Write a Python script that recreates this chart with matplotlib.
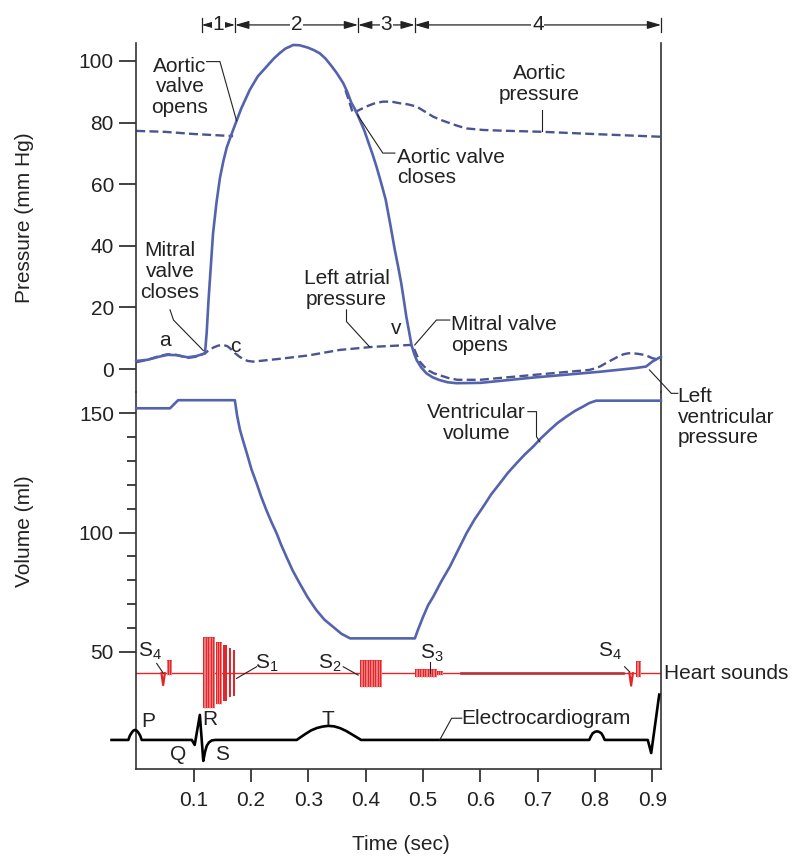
import numpy as np
import matplotlib
matplotlib.use("Agg")
import matplotlib.pyplot as plt

plt.rcParams['font.family'] = ['Liberation Sans', 'DejaVu Sans']
plt.rcParams['font.size'] = 15

# ---- data (time in s) ----
lv_t = [0.000, 0.020, 0.040, 0.055, 0.070, 0.090, 0.105, 0.120, 0.123, 0.126, 0.130, 0.134,
        0.140, 0.146, 0.152, 0.158, 0.169, 0.183, 0.198, 0.212, 0.227, 0.240, 0.250, 0.260,
        0.274, 0.285, 0.300, 0.310, 0.320, 0.330, 0.340, 0.350, 0.361, 0.368, 0.375, 0.383,
        0.390, 0.398, 0.405, 0.412, 0.419, 0.427, 0.435, 0.443, 0.451, 0.457, 0.462, 0.467,
        0.471, 0.476, 0.480, 0.485, 0.489, 0.497, 0.506, 0.517, 0.529, 0.543, 0.558, 0.600,
        0.691, 0.808, 0.870, 0.889, 0.900, 0.915]
lv_p = [2.6, 3.0, 4.0, 4.6, 4.5, 3.8, 4.2, 5.1, 12.0, 22.0, 33.0, 44.0,
        54.0, 62.0, 67.5, 72.0, 77.6, 84.5, 90.6, 95.0, 98.1, 100.8, 102.5, 104.0,
        105.2, 105.1, 104.3, 103.5, 102.5, 100.8, 98.5, 96.0, 92.8, 90.0, 86.5, 83.8,
        80.8, 77.3, 73.5, 69.8, 65.7, 60.5, 55.0, 47.0, 38.6, 33.0, 28.0, 22.0,
        17.0, 12.0, 7.8, 4.8, 2.9, 0.5, -1.4, -2.7, -3.6, -4.3, -4.6, -4.5,
        -2.8, -0.9, 0.3, 0.8, 2.4, 4.0]

aortic_t = [0.000, 0.050, 0.100, 0.169, 0.350, 0.365, 0.378, 0.390, 0.401, 0.415, 0.430,
            0.445, 0.459, 0.474, 0.489, 0.503, 0.518, 0.532, 0.547, 0.561, 0.576, 0.605,
            0.634, 0.709, 0.808, 0.915]
aortic_p = [77.3, 77.0, 76.3, 75.6, np.nan, 90.5, 83.0, 84.2, 85.2, 86.2, 86.8,
            86.8, 86.3, 85.9, 85.2, 83.6, 81.9, 80.8, 79.8, 78.9, 78.1, 77.6,
            77.4, 77.0, 76.2, 75.4]

atrial_t = [0.000, 0.020, 0.040, 0.055, 0.070, 0.090, 0.105, 0.120, 0.128, 0.135, 0.143,
            0.152, 0.159, 0.165, 0.172, 0.180, 0.188, 0.195, 0.204, 0.250, 0.300, 0.355,
            0.413, 0.477, 0.482, 0.487, 0.494, 0.502, 0.510, 0.519, 0.529, 0.544, 0.560,
            0.600, 0.700, 0.790, 0.800, 0.808, 0.818, 0.830, 0.840, 0.850, 0.858, 0.866,
            0.876, 0.885, 0.893, 0.900, 0.915]
atrial_p = [2.2, 3.0, 4.2, 4.8, 4.6, 3.6, 4.0, 5.1, 6.3, 7.0, 7.6,
            7.8, 7.4, 6.5, 5.2, 4.0, 3.1, 2.6, 2.4, 3.3, 4.4, 6.2,
            7.2, 7.8, 7.6, 5.5, 2.5, 0.8, -0.5, -1.4, -2.0, -2.9, -3.5,
            -3.5, -1.8, -0.3, 0.2, 0.75, 1.8, 3.0, 4.0, 4.8, 5.1, 5.1,
            4.9, 4.6, 4.1, 3.5, 2.9]

vol_t = [0.000, 0.059, 0.073, 0.172, 0.176, 0.181, 0.187, 0.193, 0.201, 0.210, 0.218,
         0.227, 0.236, 0.245, 0.253, 0.262, 0.273, 0.285, 0.299, 0.314, 0.328, 0.343,
         0.358, 0.373, 0.486, 0.491, 0.500, 0.509, 0.518, 0.532, 0.547, 0.561, 0.576,
         0.590, 0.605, 0.619, 0.634, 0.648, 0.663, 0.677, 0.692, 0.706, 0.721, 0.735,
         0.750, 0.765, 0.779, 0.790, 0.802, 0.915]
vol_ml = [152.1, 152.1, 155.5, 155.5, 149.0, 143.0, 138.0, 133.2, 126.5, 120.6, 115.0,
          109.4, 104.3, 99.6, 94.7, 89.8, 84.0, 78.7, 72.8, 67.5, 63.5, 60.5,
          57.5, 55.6, 55.6, 59.0, 64.5, 69.5, 73.1, 79.5, 85.7, 92.5, 99.7,
          105.5, 110.8, 116.0, 120.6, 125.0, 129.0, 132.6, 136.0, 139.6, 143.0, 146.0,
          148.6, 151.0, 152.8, 154.3, 155.3, 155.3]

# heart sound bursts: start, end, amplitude up, amplitude down (relative to trace)
sound_start = [0.053, 0.116, 0.140, 0.152, 0.161, 0.168, 0.390, 0.486, 0.524, 0.871]
sound_end   = [0.062, 0.137, 0.149, 0.159, 0.166, 0.172, 0.428, 0.524, 0.535, 0.880]
sound_up    = [5.5, 15.1, 13.0, 11.7, 10.5, 9.6, 5.6, 1.8, 0.9, 5.0]
sound_down  = [0.8, 14.7, 13.0, 11.5, 10.0, 9.4, 5.6, 1.8, 0.9, 1.5]
s4_spike_t = [0.044, 0.047, 0.050, np.nan, 0.860, 0.863, 0.866]
s4_spike_a = [0.0, -5.0, 0.0, np.nan, 0.0, -5.2, 0.0]

ecg_t = [-0.043, -0.0137, -0.011, -0.008, -0.005, -0.002, 0.001, 0.004, 0.007, 0.0096,
         0.097, 0.102, 0.111, 0.117, 0.120, 0.123, 0.127, 0.132, 0.138,
         0.280, 0.287, 0.295, 0.305, 0.315, 0.325, 0.335, 0.345, 0.355, 0.365, 0.375,
         0.384, 0.392,
         0.790, 0.793, 0.796, 0.800, 0.8035, 0.807, 0.811, 0.814, 0.817,
         0.892, 0.898, 0.912]
ecg_a = [0.0, 0.0, 1.8, 3.0, 3.9, 4.2, 3.9, 3.0, 1.8, 0.0,
         0.0, -2.1, 10.5, -8.8, -5.0, -2.5, -1.0, -0.2, 0.0,
         0.0, 1.2, 2.5, 4.0, 5.0, 5.6, 5.9, 5.7, 5.0, 3.9, 2.5,
         1.2, 0.0,
         0.0, 1.6, 2.8, 3.4, 3.6, 3.4, 2.8, 1.6, 0.0,
         0.0, -5.5, 19.0]

phase_bounds = [0.1142, 0.1725, 0.3869, 0.4857, 0.9153]
phase_labels = ['1', '2', '3', '4']

time_ticks = [0.1, 0.2, 0.3, 0.4, 0.5, 0.6, 0.7, 0.8, 0.9]
pressure_ticks = [0, 20, 40, 60, 80, 100]
volume_ticks = [50, 100, 150]
volume_minor = [60, 70, 80, 90, 110, 120, 130, 140]

# ---- styling / layout ----
BLUE = '#5463ad'
DBLUE = '#4a5492'
RED = '#e3262b'
INK = '#222222'
SOUND_BASE = 41.0
ECG_BASE = 13.0

fig = plt.figure(figsize=(8.03, 8.58), dpi=100)
ax_p = fig.add_axes([0.1696, 0.5431, 0.6535, 0.4068])
ax_v = fig.add_axes([0.1696, 0.1037, 0.6535, 0.4394])

for ax in (ax_p, ax_v):
    ax.set_xlim(0, 0.915)
    ax.set_facecolor('none')
    for s in ax.spines.values():
        s.set_color('#333333')
        s.set_linewidth(1.2)
    ax.spines['top'].set_visible(False)

ax_p.set_ylim(-7.47, 105.84)
ax_v.set_ylim(0.8, 158.93)
ax_p.spines['bottom'].set_visible(False)

# pressure panel
ax_p.plot(lv_t, lv_p, color=BLUE, lw=1.9, clip_on=False, zorder=3,
          solid_joinstyle='round')
ax_p.plot(aortic_t, aortic_p, color=DBLUE, lw=1.7, dashes=(3.8, 1.8), clip_on=False, zorder=2)
ax_p.plot(atrial_t, atrial_p, color=DBLUE, lw=1.7, dashes=(3.8, 1.8), clip_on=False, zorder=2)

ax_p.set_xticks([])
ax_p.set_yticks(pressure_ticks)
ax_p.tick_params(axis='y', length=12, width=1.2, pad=4, labelsize=15, colors=INK)

# volume panel
ax_v.plot(vol_t, vol_ml, color=BLUE, lw=1.9, clip_on=False, zorder=3, solid_joinstyle='round')
ax_v.set_yticks(volume_ticks)
ax_v.set_yticks(volume_minor, minor=True)
ax_v.tick_params(axis='y', which='major', length=12, width=1.2, pad=4, labelsize=15, colors=INK)
ax_v.tick_params(axis='y', which='minor', length=6.5, width=1.2, colors=INK)
ax_v.set_xticks(time_ticks)
ax_v.set_xticklabels([f'{v:.1f}' for v in time_ticks])
ax_v.tick_params(axis='x', length=9, width=1.2, pad=7, labelsize=15, colors=INK)

# heart sounds
ax_v.plot([0, 0.915], [SOUND_BASE, SOUND_BASE], color=RED, lw=1.0, zorder=2)
ax_v.plot([0.567, 0.848], [SOUND_BASE, SOUND_BASE], color='#b8323a', lw=1.9, zorder=2)
s_left = np.array(sound_start)
s_w = np.array(sound_end) - s_left
s_up = np.array(sound_up)
s_dn = np.array(sound_down)
bars = ax_v.bar(s_left, s_up + s_dn, width=s_w, bottom=SOUND_BASE - s_dn, align='edge',
                color=RED, edgecolor='none', zorder=3)
# faint vertical striping inside the bursts
for r in bars:
    x0, w = r.get_x(), r.get_width()
    y0, h = r.get_y(), r.get_height()
    if w > 0.008:
        xs = np.linspace(x0 + 0.0015, x0 + w - 0.0015, max(2, int(w / 0.0028)))
        ax_v.vlines(xs, y0, y0 + h, color='#f58a8a', lw=0.6, zorder=4)
ax_v.plot(s4_spike_t, SOUND_BASE + np.array(s4_spike_a), color=RED, lw=1.6, zorder=3)

# ECG
ax_v.plot(ecg_t, ECG_BASE + np.array(ecg_a), color='black', lw=1.9, clip_on=False,
          solid_joinstyle='round', zorder=3)


def leader(ax, xs, ys):
    ax.plot(xs, ys, color=INK, lw=0.8, clip_on=False, zorder=4)


def label(ax, x, y, s, ha='center', va='center'):
    ax.text(x, y, s, ha=ha, va=va, fontsize=15, color=INK, linespacing=1.12, zorder=5)


# pressure annotations
label(ax_p, 0.0763, 91.6, 'Aortic\nvalve\nopens')
leader(ax_p, [0.1228, 0.146, 0.175], [99.8, 99.8, 80.6])
label(ax_p, 0.4545, 65.4, 'Aortic valve\ncloses', ha='left')
leader(ax_p, [0.386, 0.43, 0.451], [82.5, 70.1, 70.1])
label(ax_p, 0.7035, 92.5, 'Aortic\npressure')
leader(ax_p, [0.707, 0.707], [84.1, 77.3])
label(ax_p, 0.059, 31.6, 'Mitral\nvalve\ncloses')
leader(ax_p, [0.059, 0.065, 0.117], [19.2, 15.9, 6.0])
label(ax_p, 0.050, 9.4, 'a')
label(ax_p, 0.172, 7.3, 'c')
label(ax_p, 0.454, 13.2, 'v')
label(ax_p, 0.3667, 25.9, 'Left atrial\npressure')
leader(ax_p, [0.3667, 0.3667, 0.407], [19.2, 15.4, 7.2])
label(ax_p, 0.5497, 11.0, 'Mitral valve\nopens', ha='left')
leader(ax_p, [0.5467, 0.5235, 0.4857], [15.9, 15.9, 7.8])
label(ax_p, 0.9439, -15.6, 'Left\nventricular\npressure', ha='left')
leader(ax_p, [0.9444, 0.933, 0.895], [-7.9, -7.9, -0.3])

# phase arrows
PH_Y = 111.7
for b in phase_bounds:
    ax_p.plot([b, b], [PH_Y - 2.4, PH_Y + 2.4], color=INK, lw=0.9, clip_on=False)
for i, name in enumerate(phase_labels):
    a, b = phase_bounds[i], phase_bounds[i + 1]
    ax_p.annotate('', xy=(a, PH_Y), xytext=(b, PH_Y), annotation_clip=False,
                  arrowprops=dict(arrowstyle='<|-|>,head_length=0.55,head_width=0.16',
                                  color=INK, lw=0.9, shrinkA=0, shrinkB=0))
    ax_p.text((a + b) / 2, PH_Y, name, ha='center', va='center', fontsize=15, color=INK,
              bbox=dict(facecolor='white', edgecolor='none', pad=0.5), zorder=5)

# volume-panel annotations
label(ax_v, 0.593, 145.8, 'Ventricular\nvolume')
leader(ax_v, [0.683, 0.698, 0.698, 0.704], [150.7, 150.7, 140.2, 138.0])

label(ax_v, 0.0241, 50.0, r'$\mathregular{S_4}$')
leader(ax_v, [0.0357, 0.0472], [45.1, SOUND_BASE])
label(ax_v, 0.2273, 45.1, r'$\mathregular{S_1}$')
leader(ax_v, [0.21, 0.175], [43.7, 38.8])
label(ax_v, 0.3376, 45.1, r'$\mathregular{S_2}$')
leader(ax_v, [0.361, 0.387], [43.7, 40.2])
label(ax_v, 0.5148, 49.3, r'$\mathregular{S_3}$')
leader(ax_v, [0.512, 0.512], [45.8, SOUND_BASE])
label(ax_v, 0.8254, 50.0, r'$\mathregular{S_4}$')
leader(ax_v, [0.8516, 0.8603], [43.7, 41.6])
label(ax_v, 0.921, SOUND_BASE, 'Heart sounds', ha='left')

label(ax_v, 0.021, 20.6, 'P')
label(ax_v, 0.1286, 21.4, 'R')
label(ax_v, 0.0728, 6.7, 'Q')
label(ax_v, 0.149, 6.7, 'S')
label(ax_v, 0.3347, 21.4, 'T')
label(ax_v, 0.5676, 22.1, 'Electrocardiogram', ha='left')
leader(ax_v, [0.5676, 0.550, 0.5293], [22.1, 22.1, ECG_BASE])

# axis titles
fig.text(25 / 803, 1 - 218 / 858, 'Pressure (mm Hg)', rotation=90, ha='center', va='center',
         fontsize=15, color=INK)
fig.text(25 / 803, 1 - 531 / 858, 'Volume (ml)', rotation=90, ha='center', va='center',
         fontsize=15, color=INK)
fig.text(401 / 803, 1 - 845 / 858, 'Time (sec)', ha='center', va='center', fontsize=15, color=INK)

fig.savefig('out.png', dpi=100, facecolor='white')
